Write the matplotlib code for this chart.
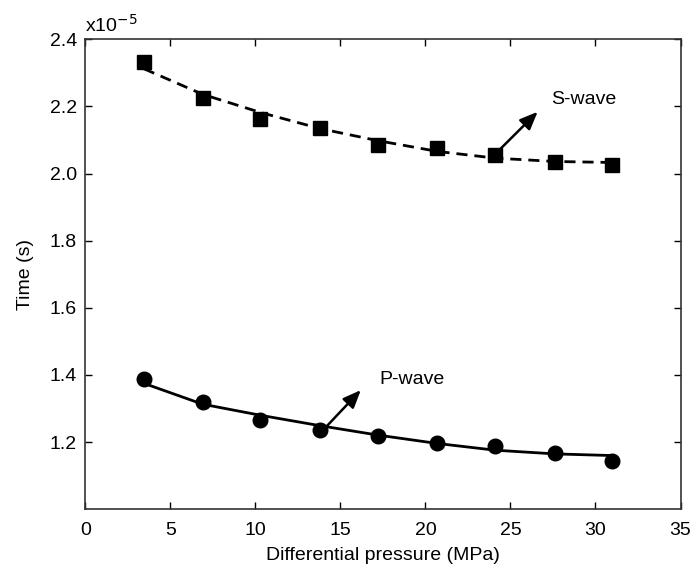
import matplotlib
matplotlib.use('Agg')
import matplotlib.pyplot as plt

plt.rcParams['font.family'] = 'sans-serif'
plt.rcParams['font.sans-serif'] = ['Liberation Sans', 'DejaVu Sans']

# differential pressure (MPa)
pressure = [3.45, 6.9, 10.3, 13.8, 17.2, 20.7, 24.1, 27.6, 31.0]

# measured travel times (x1e-5 s)
s_time = [2.333, 2.224, 2.164, 2.136, 2.085, 2.075, 2.055, 2.035, 2.025]
p_time = [1.387, 1.319, 1.267, 1.237, 1.217, 1.197, 1.187, 1.167, 1.144]

# fitted trend curves (x1e-5 s)
s_fit = [2.312, 2.236, 2.182, 2.134, 2.098, 2.066, 2.046, 2.036, 2.033]
p_fit = [1.375, 1.313, 1.280, 1.249, 1.221, 1.196, 1.176, 1.165, 1.160]

x_ticks = [0, 5, 10, 15, 20, 25, 30, 35]
y_ticks = [1.2, 1.4, 1.6, 1.8, 2.0, 2.2, 2.4]

fs = 14

fig = plt.figure(figsize=(6.92, 5.75), dpi=100)
ax = fig.add_axes([0.1233, 0.1143, 0.8601, 0.8174])

ax.plot(pressure, s_fit, color='black', linewidth=2.0, linestyle=(0, (4, 2.5)))
ax.plot(pressure, p_fit, color='black', linewidth=2.0)
ax.plot(pressure, s_time, linestyle='none', marker='s', markersize=10.5,
        color='black')
ax.plot(pressure, p_time, linestyle='none', marker='o', markersize=10.5,
        color='black')

arrow = dict(arrowstyle='-|>,head_length=0.6,head_width=0.25', color='black',
             lw=1.8, mutation_scale=18, shrinkA=0, shrinkB=0)
ax.annotate('', xy=(26.6, 2.184), xytext=(24.3, 2.068), arrowprops=arrow)
ax.annotate('', xy=(16.2, 1.355), xytext=(14.15, 1.245), arrowprops=arrow)
ax.text(27.4, 2.221, 'S-wave', fontsize=fs, va='center', ha='left')
ax.text(17.3, 1.388, 'P-wave', fontsize=fs, va='center', ha='left')

ax.set_xlim(0, 35)
ax.set_ylim(1.0, 2.4)
ax.set_xticks(x_ticks)
ax.set_yticks(y_ticks)
ax.set_yticklabels([f'{v:.1f}' for v in y_ticks])
ax.tick_params(direction='in', top=True, right=True, length=5, width=1,
               labelsize=fs)
ax.tick_params(axis='x', pad=9)
ax.tick_params(axis='y', pad=6)
for sp in ax.spines.values():
    sp.set_linewidth(1.2)
    sp.set_color('#333333')

ax.text(0.0, 1.008, r'x10$^{-5}$', transform=ax.transAxes, fontsize=fs,
        ha='left', va='bottom')
ax.set_xlabel('Differential pressure (MPa)', fontsize=fs, labelpad=6)
ax.set_ylabel('Time (s)', fontsize=fs, labelpad=11)

fig.savefig('out.png', dpi=100)
